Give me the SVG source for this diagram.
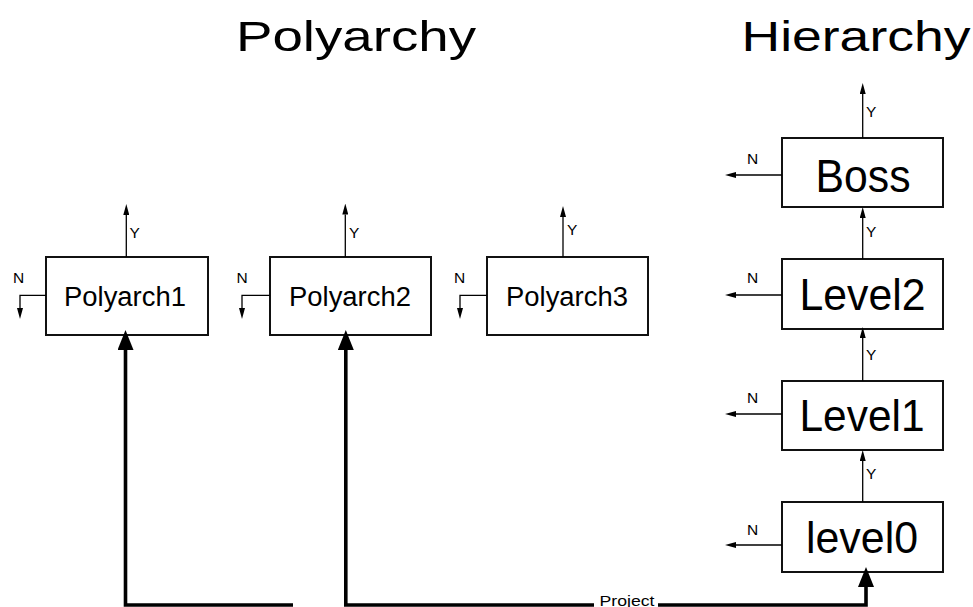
<svg xmlns="http://www.w3.org/2000/svg" width="973" height="607" viewBox="0 0 973 607">
<defs>
<marker id="sm" viewBox="0 0 11 6" markerWidth="11" markerHeight="6" refX="0" refY="3" orient="auto" markerUnits="userSpaceOnUse"><path d="M0,0 L11,3 L0,6 z" fill="#000"/></marker>
<marker id="big" viewBox="0 0 20 16" markerWidth="20" markerHeight="16" refX="0" refY="8" orient="auto" markerUnits="userSpaceOnUse"><path d="M0,0 L20,8 L0,16 z" fill="#000"/></marker>
<style>
text{font-family:"Liberation Sans",Arial,sans-serif;fill:#000}
.box{fill:#fff;stroke:#111;stroke-width:2}
.thin{fill:none;stroke:#000;stroke-width:1.3;marker-end:url(#sm)}
.thickA{fill:none;stroke:#000;stroke-width:3.6;marker-end:url(#big)}
.lbl{font-size:15.5px}
.title{font-size:43px}
.pt{font-size:27px;text-anchor:middle}
.ht{font-size:44px;text-anchor:middle}
</style>
</defs>
<rect width="973" height="607" fill="#fff"/>
<text class="title" x="356" y="51" text-anchor="middle" textLength="240" lengthAdjust="spacingAndGlyphs">Polyarchy</text>
<text class="title" x="856" y="51" text-anchor="middle" textLength="229" lengthAdjust="spacingAndGlyphs">Hierarchy</text>

<g id="polyarch1">
<rect class="box" x="46" y="257" width="162" height="78"/>
<text class="pt" x="125" y="306" textLength="122" lengthAdjust="spacingAndGlyphs">Polyarch1</text>
</g>
<g id="polyarch2">
<rect class="box" x="270" y="257" width="161" height="78"/>
<text class="pt" x="350" y="306" textLength="122" lengthAdjust="spacingAndGlyphs">Polyarch2</text>
</g>
<g id="polyarch3">
<rect class="box" x="487" y="257" width="161" height="78"/>
<text class="pt" x="567" y="306" textLength="122" lengthAdjust="spacingAndGlyphs">Polyarch3</text>
</g>
<g id="boss">
<rect class="box" x="782" y="138" width="161" height="69"/>
<text class="ht" x="863" y="192" style="font-size:47px" textLength="95" lengthAdjust="spacingAndGlyphs">Boss</text>
</g>
<g id="level2">
<rect class="box" x="782" y="259" width="161" height="70"/>
<text class="ht" x="862.5" y="310" textLength="126" lengthAdjust="spacingAndGlyphs">Level2</text>
</g>
<g id="level1">
<rect class="box" x="782" y="381" width="161" height="69"/>
<text class="ht" x="862" y="431" textLength="125" lengthAdjust="spacingAndGlyphs">Level1</text>
</g>
<g id="level0">
<rect class="box" x="782" y="502" width="161" height="70"/>
<text class="ht" x="862" y="552.5" textLength="112" lengthAdjust="spacingAndGlyphs">level0</text>
</g>

<g id="connectors">
<path class="thin" d="M126.3,257 V215"/>
<text class="lbl" x="129.5" y="238">Y</text>
<path class="thin" d="M345.3,257 V214.5"/>
<text class="lbl" x="349" y="238">Y</text>
<path class="thin" d="M563,257 V217"/>
<text class="lbl" x="567" y="235">Y</text>
<path class="thin" d="M46,295.3 H20 V308"/>
<text class="lbl" x="13" y="283">N</text>
<path class="thin" d="M270,295.3 H242 V308"/>
<text class="lbl" x="236.5" y="283">N</text>
<path class="thin" d="M487,295.3 H460 V308"/>
<text class="lbl" x="454" y="283">N</text>
<path class="thin" d="M862.7,138 V94"/>
<text class="lbl" x="866" y="117">Y</text>
<path class="thin" d="M862.7,259 V218"/>
<text class="lbl" x="866" y="237">Y</text>
<path class="thin" d="M862.7,381 V338"/>
<text class="lbl" x="866" y="360">Y</text>
<path class="thin" d="M862.7,502 V461"/>
<text class="lbl" x="866" y="479">Y</text>
<path class="thin" d="M782,175 H736"/>
<text class="lbl" x="747" y="164">N</text>
<path class="thin" d="M782,295 H736"/>
<text class="lbl" x="747" y="283">N</text>
<path class="thin" d="M782,414 H736"/>
<text class="lbl" x="747" y="403">N</text>
<path class="thin" d="M782,545 H736"/>
<text class="lbl" x="747" y="535">N</text>
<path class="thickA" d="M293,605 H125.5 V350"/>
<path class="thickA" d="M594,605 H345.8 V350"/>
<path class="thickA" d="M658,605 H866 V587"/>
<text class="lbl" x="627" y="606" text-anchor="middle" textLength="55" lengthAdjust="spacingAndGlyphs">Project</text>
</g>
</svg>
